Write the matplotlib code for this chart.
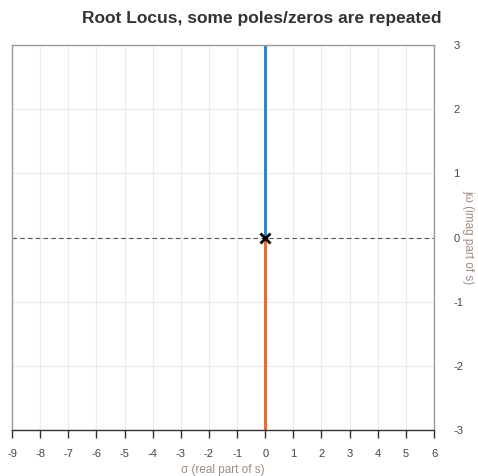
import matplotlib
matplotlib.use("Agg")
import matplotlib.pyplot as plt

plt.rcParams['font.family'] = ['Liberation Sans', 'DejaVu Sans']
plt.rcParams['axes.unicode_minus'] = False

# Data
branch_up_re = [0, 0]
branch_up_im = [0, 3]
branch_dn_re = [0, 0]
branch_dn_im = [0, -3]
poles_re = [0]
poles_im = [0]
xticks = list(range(-9, 7))
yticks = list(range(-3, 4))

fig = plt.figure(figsize=(4.78, 4.76), dpi=100)
ax = fig.add_axes([12 / 478, 1 - 430 / 476, 422 / 478, 385 / 476])

ax.axhline(0, color='#555555', lw=0.8, ls=(0, (4, 3)), zorder=1)
ax.plot(branch_up_re, branch_up_im, color='#2a7bbd', lw=2, zorder=2)
ax.plot(branch_dn_re, branch_dn_im, color='#e4622e', lw=2, zorder=2)
ax.plot(poles_re, poles_im, 'x', color='black', ms=7, mew=2, zorder=3)

ax.set_xlim(-9, 6)
ax.set_ylim(-3, 3)
ax.set_xticks(xticks)
ax.set_yticks(yticks)
ax.grid(True, color='#ececec', lw=0.8)
ax.set_axisbelow(True)

ax.yaxis.tick_right()
ax.tick_params(axis='y', length=0, pad=14, labelsize=8, labelcolor='#444444')
ax.tick_params(axis='x', length=6, width=1, color='#333333', direction='out',
               labelsize=8, labelcolor='#444444', pad=8)

for side in ['left', 'top', 'right']:
    ax.spines[side].set_color('#999999')
    ax.spines[side].set_linewidth(1)
ax.spines['bottom'].set_color('#333333')
ax.spines['bottom'].set_linewidth(1)

ax.set_xlabel('σ (real part of s)', color='#a08c80', fontsize=8.5, labelpad=3)
fig.text(468 / 478, 1 - 237 / 476, 'jω (imag part of s)', color='#a08c80',
         fontsize=8.5, rotation=270, ha='center', va='center')
fig.text(262 / 478, 1 - 18 / 476, 'Root Locus, some poles/zeros are repeated',
         fontsize=12.5, fontweight='bold', color='#333333',
         ha='center', va='center')

fig.savefig('out.png', dpi=100)
